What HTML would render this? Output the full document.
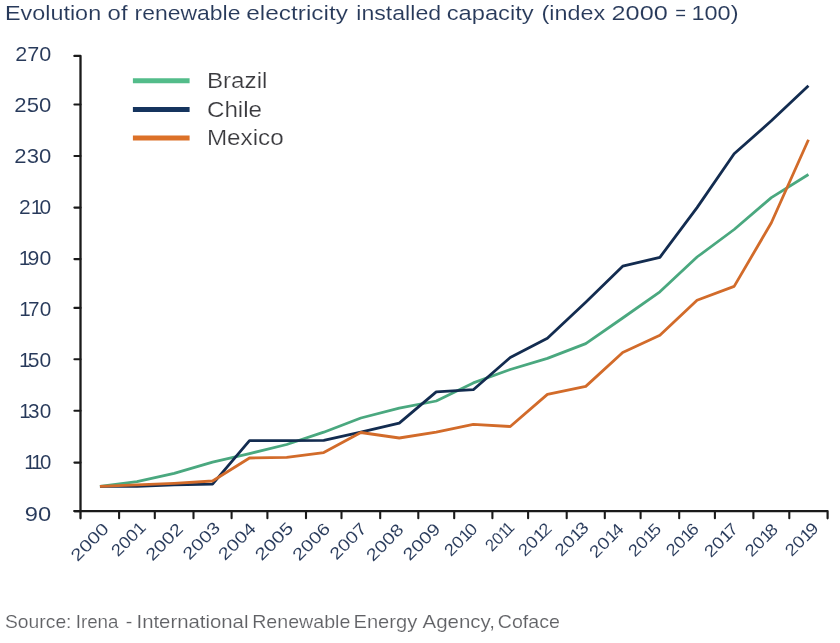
<!DOCTYPE html><html><head><meta charset="utf-8"><title>Evolution of renewable electricity installed capacity</title><style>
html,body{margin:0;padding:0;background:#fff;width:840px;height:643px;overflow:hidden}
svg{display:block}
svg{will-change:transform}
text{font-family:"Liberation Sans",Arial,sans-serif;stroke:#fff;stroke-width:0.06}
</style></head><body>
<svg width="840" height="643" viewBox="0 0 840 643">
<rect width="840" height="643" fill="#fff"/>
<text transform="translate(4.90,20.00) scale(1.2002,1)" font-size="19.5" fill="#27395a" style="stroke-width:0.1px">Evolution</text>
<text transform="translate(107.60,20.00) scale(1.2249,1)" font-size="19.5" fill="#27395a" style="stroke-width:0.1px">of</text>
<text transform="translate(134.50,20.00) scale(1.1778,1)" font-size="19.5" fill="#27395a" style="stroke-width:0.1px">renewable</text>
<text transform="translate(246.30,20.00) scale(1.2505,1)" font-size="19.5" fill="#27395a" style="stroke-width:0.1px">electricity</text>
<text transform="translate(356.30,20.00) scale(1.1861,1)" font-size="19.5" fill="#27395a" style="stroke-width:0.1px">installed</text>
<text transform="translate(446.70,20.00) scale(1.2164,1)" font-size="19.5" fill="#27395a" style="stroke-width:0.1px">capacity</text>
<text transform="translate(541.50,20.00) scale(1.2000,1)" font-size="19.5" fill="#27395a" style="stroke-width:0.1px">(index</text>
<text transform="translate(611.50,20.00) scale(1.2976,1)" font-size="19.5" fill="#27395a" style="stroke-width:0.1px">2000</text>
<text transform="translate(675.25,20.00) scale(0.9396,1)" font-size="19.5" fill="#27395a" style="stroke-width:0.1px">=</text>
<text transform="translate(691.50,20.00) scale(1.2039,1)" font-size="19.5" fill="#27395a" style="stroke-width:0.1px">100)</text>
<text transform="translate(5.00,627.90) scale(1.1036,1)" font-size="17.5" fill="#606165" style="stroke-width:0.15px">Source:</text>
<text transform="translate(75.70,627.90) scale(1.0726,1)" font-size="17.5" fill="#606165" style="stroke-width:0.15px">Irena</text>
<text transform="translate(125.70,627.90) scale(1.1265,1)" font-size="17.5" fill="#606165" style="stroke-width:0.15px">-</text>
<text transform="translate(136.50,627.90) scale(1.1630,1)" font-size="17.5" fill="#606165" style="stroke-width:0.15px">International</text>
<text transform="translate(252.20,627.90) scale(1.1207,1)" font-size="17.5" fill="#606165" style="stroke-width:0.15px">Renewable</text>
<text transform="translate(353.50,627.90) scale(1.1494,1)" font-size="17.5" fill="#606165" style="stroke-width:0.15px">Energy</text>
<text transform="translate(422.50,627.90) scale(1.1715,1)" font-size="17.5" fill="#606165" style="stroke-width:0.15px">Agency,</text>
<text transform="translate(497.80,627.90) scale(1.1207,1)" font-size="17.5" fill="#606165" style="stroke-width:0.15px">Coface</text>
<text transform="translate(51.20,61.10) scale(1.1064,1)" font-size="19.5" fill="#27395a" text-anchor="end">270</text>
<text transform="translate(51.20,111.80) scale(1.1324,1)" font-size="19.5" fill="#27395a" text-anchor="end">250</text>
<text transform="translate(51.20,163.20) scale(1.1324,1)" font-size="19.5" fill="#27395a" text-anchor="end">230</text>
<text transform="translate(51.20,214.30) scale(1.0738,1)" dx="0 0 -2.6" font-size="19.5" fill="#27395a" text-anchor="end">210</text>
<text transform="translate(51.20,265.40) scale(1.0876,1)" dx="0 -2.6 0" font-size="19.5" fill="#27395a" text-anchor="end">190</text>
<text transform="translate(51.20,316.30) scale(1.0645,1)" dx="0 -2.6 0" font-size="19.5" fill="#27395a" text-anchor="end">170</text>
<text transform="translate(51.20,366.90) scale(1.0786,1)" dx="0 -2.6 0" font-size="19.5" fill="#27395a" text-anchor="end">150</text>
<text transform="translate(51.20,417.80) scale(1.0645,1)" dx="0 -2.6 0" font-size="19.5" fill="#27395a" text-anchor="end">130</text>
<text transform="translate(51.20,468.80) scale(1.0448,1)" dx="0 -2.6 -2.6" font-size="19.5" fill="#27395a" text-anchor="end">110</text>
<text transform="translate(51.20,520.60) scale(1.2171,1)" font-size="19.5" fill="#27395a" text-anchor="end">90</text>
<path d="M74.4,55.9 L80.5,55.9 L80.5,518.3" fill="none" stroke="#1a1a1a" stroke-width="2.3" stroke-linejoin="round" stroke-linecap="round"/>
<line x1="74.4" y1="104.5" x2="80.5" y2="104.5" stroke="#1a1a1a" stroke-width="2.1" stroke-linecap="round"/>
<line x1="74.4" y1="156.0" x2="80.5" y2="156.0" stroke="#1a1a1a" stroke-width="2.1" stroke-linecap="round"/>
<line x1="74.4" y1="207.6" x2="80.5" y2="207.6" stroke="#1a1a1a" stroke-width="2.1" stroke-linecap="round"/>
<line x1="74.4" y1="259.1" x2="80.5" y2="259.1" stroke="#1a1a1a" stroke-width="2.1" stroke-linecap="round"/>
<line x1="74.4" y1="307.9" x2="80.5" y2="307.9" stroke="#1a1a1a" stroke-width="2.1" stroke-linecap="round"/>
<line x1="74.4" y1="359.3" x2="80.5" y2="359.3" stroke="#1a1a1a" stroke-width="2.1" stroke-linecap="round"/>
<line x1="74.4" y1="410.8" x2="80.5" y2="410.8" stroke="#1a1a1a" stroke-width="2.1" stroke-linecap="round"/>
<line x1="74.4" y1="462.6" x2="80.5" y2="462.6" stroke="#1a1a1a" stroke-width="2.1" stroke-linecap="round"/>
<line x1="74.4" y1="511.1" x2="80.5" y2="511.1" stroke="#1a1a1a" stroke-width="2.1" stroke-linecap="round"/>
<path d="M74.4,511.1 L827.6,511.1 L827.6,518.3" fill="none" stroke="#1a1a1a" stroke-width="2.2" stroke-linejoin="round" stroke-linecap="round"/>
<line x1="119.1" y1="511.1" x2="119.1" y2="518.3" stroke="#1a1a1a" stroke-width="2.1" stroke-linecap="round"/>
<line x1="154.8" y1="511.1" x2="154.8" y2="518.3" stroke="#1a1a1a" stroke-width="2.1" stroke-linecap="round"/>
<line x1="193.5" y1="511.1" x2="193.5" y2="518.3" stroke="#1a1a1a" stroke-width="2.1" stroke-linecap="round"/>
<line x1="231.6" y1="511.1" x2="231.6" y2="518.3" stroke="#1a1a1a" stroke-width="2.1" stroke-linecap="round"/>
<line x1="267.4" y1="511.1" x2="267.4" y2="518.3" stroke="#1a1a1a" stroke-width="2.1" stroke-linecap="round"/>
<line x1="306" y1="511.1" x2="306" y2="518.3" stroke="#1a1a1a" stroke-width="2.1" stroke-linecap="round"/>
<line x1="341.5" y1="511.1" x2="341.5" y2="518.3" stroke="#1a1a1a" stroke-width="2.1" stroke-linecap="round"/>
<line x1="380.2" y1="511.1" x2="380.2" y2="518.3" stroke="#1a1a1a" stroke-width="2.1" stroke-linecap="round"/>
<line x1="418.3" y1="511.1" x2="418.3" y2="518.3" stroke="#1a1a1a" stroke-width="2.1" stroke-linecap="round"/>
<line x1="454.2" y1="511.1" x2="454.2" y2="518.3" stroke="#1a1a1a" stroke-width="2.1" stroke-linecap="round"/>
<line x1="492.4" y1="511.1" x2="492.4" y2="518.3" stroke="#1a1a1a" stroke-width="2.1" stroke-linecap="round"/>
<line x1="528.1" y1="511.1" x2="528.1" y2="518.3" stroke="#1a1a1a" stroke-width="2.1" stroke-linecap="round"/>
<line x1="566.7" y1="511.1" x2="566.7" y2="518.3" stroke="#1a1a1a" stroke-width="2.1" stroke-linecap="round"/>
<line x1="604.8" y1="511.1" x2="604.8" y2="518.3" stroke="#1a1a1a" stroke-width="2.1" stroke-linecap="round"/>
<line x1="640.6" y1="511.1" x2="640.6" y2="518.3" stroke="#1a1a1a" stroke-width="2.1" stroke-linecap="round"/>
<line x1="679.2" y1="511.1" x2="679.2" y2="518.3" stroke="#1a1a1a" stroke-width="2.1" stroke-linecap="round"/>
<line x1="714.9" y1="511.1" x2="714.9" y2="518.3" stroke="#1a1a1a" stroke-width="2.1" stroke-linecap="round"/>
<line x1="753.4" y1="511.1" x2="753.4" y2="518.3" stroke="#1a1a1a" stroke-width="2.1" stroke-linecap="round"/>
<line x1="789.3" y1="511.1" x2="789.3" y2="518.3" stroke="#1a1a1a" stroke-width="2.1" stroke-linecap="round"/>
<polyline points="99.95,486.30 136.95,481.60 174.15,473.30 212.55,462.10 249.50,453.60 286.70,444.50 323.75,432.20 360.85,418.00 399.25,408.10 436.25,401.00 473.30,382.90 510.25,369.50 547.40,358.40 585.75,343.60 622.70,318.00 659.90,291.80 697.05,257.00 734.15,229.50 771.35,197.60 808.45,174.50" fill="none" stroke="#4aa87f" stroke-width="2.8" stroke-linejoin="round" stroke-linecap="butt"/>
<polyline points="99.95,486.30 136.95,486.40 174.15,484.90 212.55,484.10 249.50,440.70 286.70,440.70 323.75,440.30 360.85,432.10 399.25,423.10 436.25,391.90 473.30,389.70 510.25,357.50 547.40,338.20 585.75,302.30 622.70,266.20 659.90,257.30 697.05,207.60 734.15,153.80 771.35,120.80 808.45,85.70" fill="none" stroke="#132c50" stroke-width="2.8" stroke-linejoin="round" stroke-linecap="butt"/>
<polyline points="99.95,486.30 136.95,484.90 174.15,483.30 212.55,481.00 249.50,458.00 286.70,457.40 323.75,452.60 360.85,432.50 399.25,438.00 436.25,432.10 473.30,424.30 510.25,426.50 547.40,394.40 585.75,386.40 622.70,352.50 659.90,335.30 697.05,300.30 734.15,286.40 771.35,222.80 808.45,139.70" fill="none" stroke="#d26b2a" stroke-width="2.8" stroke-linejoin="round" stroke-linecap="butt"/>
<text transform="translate(109.95,529.80) rotate(-45) scale(1.2262,1)" font-size="16.8" fill="#27395a" text-anchor="end">2000</text>
<text transform="translate(147.05,528.50) rotate(-45) scale(1.0979,1)" font-size="16.8" fill="#27395a" text-anchor="end">2001</text>
<text transform="translate(184.05,530.20) rotate(-45) scale(1.1976,1)" font-size="16.8" fill="#27395a" text-anchor="end">2002</text>
<text transform="translate(221.35,528.70) rotate(-45) scale(1.2095,1)" font-size="16.8" fill="#27395a" text-anchor="end">2003</text>
<text transform="translate(256.90,529.40) rotate(-45) scale(1.2072,1)" font-size="16.8" fill="#27395a" text-anchor="end">2004</text>
<text transform="translate(294.40,529.00) rotate(-45) scale(1.2338,1)" font-size="16.8" fill="#27395a" text-anchor="end">2005</text>
<text transform="translate(331.25,529.70) rotate(-45) scale(1.2106,1)" font-size="16.8" fill="#27395a" text-anchor="end">2006</text>
<text transform="translate(367.65,529.70) rotate(-45) scale(1.1757,1)" font-size="16.8" fill="#27395a" text-anchor="end">2007</text>
<text transform="translate(404.75,530.60) rotate(-45) scale(1.2025,1)" font-size="16.8" fill="#27395a" text-anchor="end">2008</text>
<text transform="translate(441.35,530.10) rotate(-45) scale(1.1933,1)" font-size="16.8" fill="#27395a" text-anchor="end">2009</text>
<text transform="translate(478.40,529.90) rotate(-45) scale(1.1008,1)" dx="0 0 0 -2.2" font-size="16.8" fill="#27395a" text-anchor="end">2010</text>
<text transform="translate(515.55,528.60) rotate(-45) scale(0.9819,1)" dx="0 0 0 -2.2" font-size="16.8" fill="#27395a" text-anchor="end">2011</text>
<text transform="translate(552.80,529.50) rotate(-45) scale(1.1186,1)" dx="0 0 0 -2.2" font-size="16.8" fill="#27395a" text-anchor="end">2012</text>
<text transform="translate(589.95,528.60) rotate(-45) scale(1.1492,1)" dx="0 0 0 -2.2" font-size="16.8" fill="#27395a" text-anchor="end">2013</text>
<text transform="translate(624.90,530.10) rotate(-45) scale(1.1581,1)" dx="0 0 0 -2.2" font-size="16.8" fill="#27395a" text-anchor="end">2014</text>
<text transform="translate(662.40,530.20) rotate(-45) scale(1.1032,1)" dx="0 0 0 -2.2" font-size="16.8" fill="#27395a" text-anchor="end">2015</text>
<text transform="translate(699.95,530.10) rotate(-45) scale(1.0932,1)" dx="0 0 0 -2.2" font-size="16.8" fill="#27395a" text-anchor="end">2016</text>
<text transform="translate(739.25,530.10) rotate(-45) scale(1.1349,1)" dx="0 0 0 -2.2" font-size="16.8" fill="#27395a" text-anchor="end">2017</text>
<text transform="translate(779.15,530.40) rotate(-45) scale(1.1053,1)" dx="0 0 0 -2.2" font-size="16.8" fill="#27395a" text-anchor="end">2018</text>
<text transform="translate(819.55,529.40) rotate(-45) scale(1.1192,1)" dx="0 0 0 -2.2" font-size="16.8" fill="#27395a" text-anchor="end">2019</text>
<line x1="132.9" y1="80.8" x2="189.6" y2="80.8" stroke="#53bc8a" stroke-width="5"/>
<text transform="translate(206.90,88.30) scale(1.1270,1)" font-size="21.5" fill="#3a3a3e" style="stroke-width:0.2px">Brazil</text>
<line x1="132.9" y1="109.4" x2="189.6" y2="109.4" stroke="#15345e" stroke-width="5"/>
<text transform="translate(206.90,116.80) scale(1.1270,1)" font-size="21.5" fill="#3a3a3e" style="stroke-width:0.2px">Chile</text>
<line x1="132.9" y1="138.1" x2="189.6" y2="138.1" stroke="#dc7128" stroke-width="5"/>
<text transform="translate(206.90,144.60) scale(1.1270,1)" font-size="21.5" fill="#3a3a3e" style="stroke-width:0.2px">Mexico</text>
</svg></body></html>
